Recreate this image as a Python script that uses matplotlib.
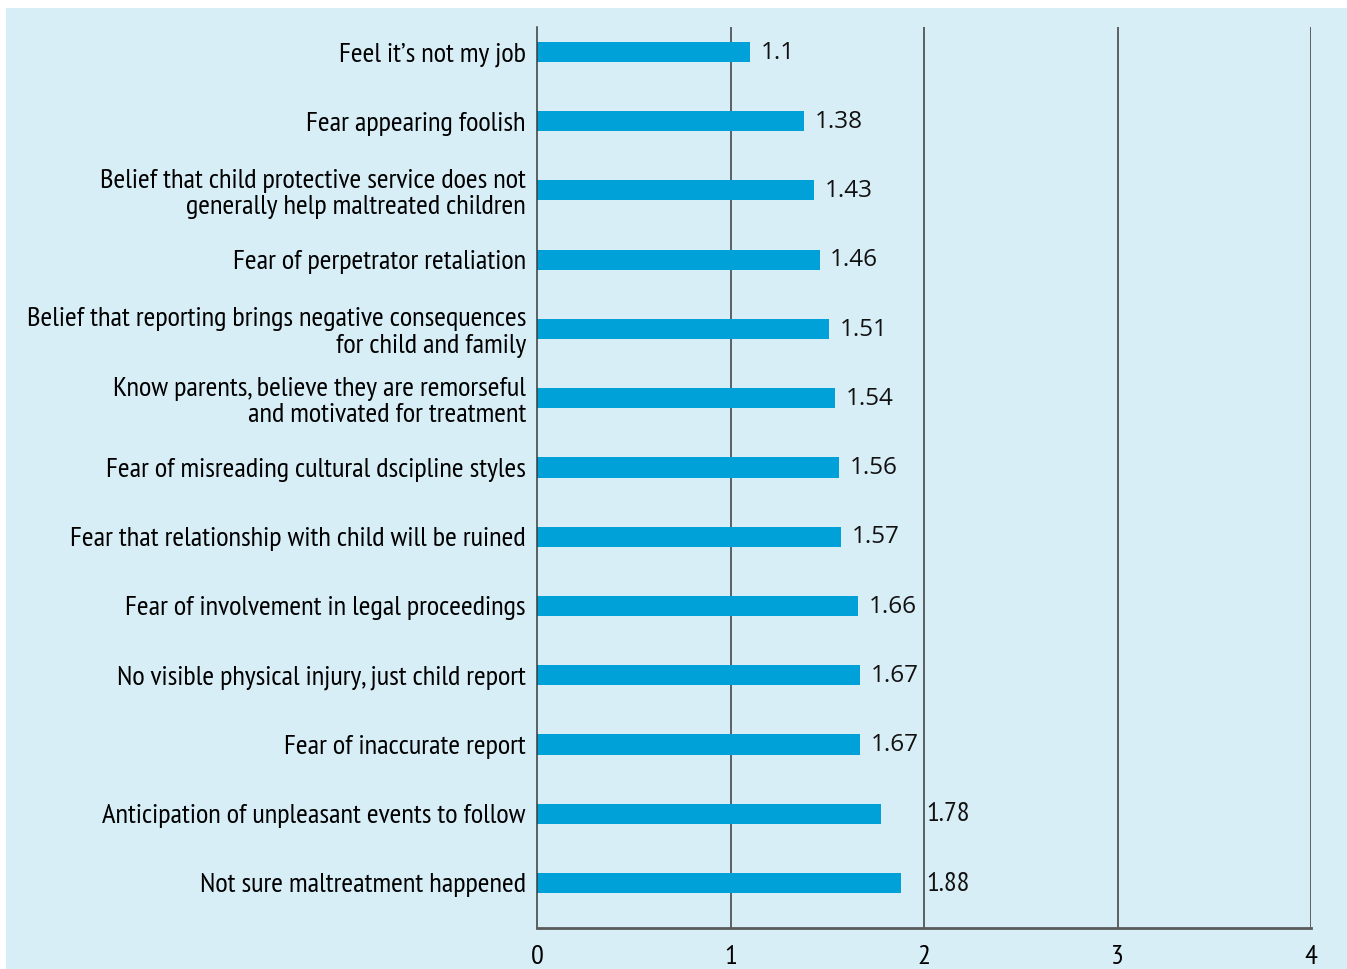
import matplotlib.pyplot as plt
from matplotlib.patches import Rectangle

labels = [
    "Feel it\u2019s not my job",
    "Fear appearing foolish",
    "Belief that child protective service does not\ngenerally help maltreated children",
    "Fear of perpetrator retaliation",
    "Belief that reporting brings negative consequences\nfor child and family",
    "Know parents, believe they are remorseful\nand motivated for treatment",
    "Fear of misreading cultural dscipline styles",
    "Fear that relationship with child will be ruined",
    "Fear of involvement in legal proceedings",
    "No visible physical injury, just child report",
    "Fear of inaccurate report",
    "Anticipation of unpleasant events to follow",
    "Not sure maltreatment happened",
]
values = [1.1, 1.38, 1.43, 1.46, 1.51, 1.54, 1.56, 1.57, 1.66, 1.67, 1.67, 1.78, 1.88]
value_text = ["1.1", "1.38", "1.43", "1.46", "1.51", "1.54", "1.56", "1.57", "1.66", "1.67", "1.67", "1.78", "1.88"]
ticks = [0, 1, 2, 3, 4]

BG = "#d8eef6"
BAR = "#00a0d9"
NARROW = ["PT Sans Narrow", "Fira Sans Condensed", "Roboto Condensed", "DejaVu Sans"]
WIDE = ["Open Sans", "DejaVu Sans"]

fig = plt.figure(figsize=(13.47, 9.69), dpi=100)
fig.patch.set_facecolor("white")
fig.patches.append(Rectangle((6 / 1347, 0), 1 - 6 / 1347, 1 - 8 / 969,
                             transform=fig.transFigure, facecolor=BG,
                             edgecolor="none", zorder=-10))

ax = fig.add_axes([537 / 1347, 1 - 928 / 969, (1311 - 537) / 1347, (928 - 27) / 969])
ax.set_facecolor("none")

ypos = list(range(len(values)))
ax.barh(ypos, values, height=0.29, color=BAR, zorder=2)

ax.set_xlim(0, 4)
ax.set_ylim(len(values) - 1 + 0.65, -0.36)

for x in ticks[1:]:
    ax.axvline(x, color="#3a3a3a", linewidth=1.1, zorder=1)

for s in ["top", "right"]:
    ax.spines[s].set_visible(False)
ax.spines["left"].set_color("#3a3a3a")
ax.spines["left"].set_linewidth(1.1)
ax.spines["bottom"].set_color("#5a5a5a")
ax.spines["bottom"].set_linewidth(2)

ax.set_yticks(ypos)
ax.set_yticklabels(labels, family=NARROW, fontsize=20.5, linespacing=1.12)
ax.set_xticks(ticks)
ax.set_xticklabels([str(t) for t in ticks], family=NARROW, fontsize=20.5)
ax.tick_params(axis="y", length=0, pad=8)
ax.tick_params(axis="x", length=0, pad=12)

# value labels just past each bar; push past the 2-gridline if they would touch it
for y, v, t in zip(ypos, values, value_text):
    x = v + 0.055
    fam = WIDE
    size = 17.5
    if x + 0.2 > 2:
        x = 2.01
        fam = NARROW
        size = 20.5
    ax.text(x, y + 0.01, t, va="center", ha="left", fontsize=size,
            family=fam, color="#111111", zorder=3)

fig.savefig("out.png", dpi=100)
